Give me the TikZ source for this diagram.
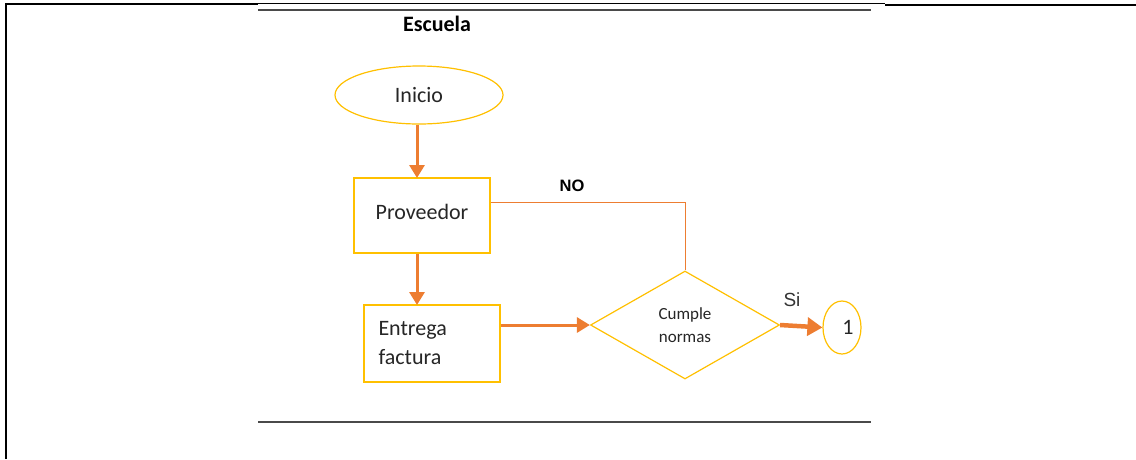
\documentclass[tikz,border=0pt]{standalone}
\usepackage{fontspec}
\setmainfont{Carlito}
\newfontfamily\arialfont{Liberation Sans}
\usetikzlibrary{shapes.geometric,arrows.meta}
\definecolor{boxgold}{HTML}{FFC000}
\definecolor{flow}{HTML}{ED7D31}
\definecolor{rule}{HTML}{4A4A4A}
\begin{document}
\begin{tikzpicture}[x=1pt,y=-1pt,
  shapebox/.style={draw=boxgold,line width=1.2pt,fill=white,font=\fontsize{22}{29}\selectfont,text=black!85},
  flowarrow/.style={draw=flow,line width=3pt,-{Triangle[length=13pt 0 0,width=15pt 0 0]}},
  flowline/.style={draw=flow,line width=1pt}]
\useasboundingbox (0,0) rectangle (1136,459);

% page frame and rules
\draw[line width=2pt] (6,459) -- (6,4) -- (258,4);
\draw[line width=1pt] (258,3.5) -- (885,3.5);
\draw[line width=2pt] (885,4.5) -- (1136,4.5);
\draw[rule,line width=2pt] (258,9.5) -- (871,9.5);
\draw[rule,line width=2pt] (258,422) -- (871,422);

% title
\node[font=\fontsize{22}{26}\selectfont\bfseries] (title) at (437,24) {Escuela};

% flow shapes
\node[shapebox,ellipse,minimum width=168,minimum height=58,inner sep=0] (inicio) at (419,95) {Inicio};
\node[shapebox,rectangle,minimum width=136,minimum height=75,inner sep=0] (prov) at (422,215.5) {\raisebox{7pt}{Proveedor}};
\node[shapebox,rectangle,text width=107,align=left,inner xsep=14.5,minimum height=77,inner ysep=0] (entrega) at (432,343.5) {Entrega\\factura};
\node[shapebox,diamond,minimum width=189,minimum height=108,inner sep=0,font=\fontsize{17}{23}\selectfont,align=center] (cumple) at (685,325) {Cumple\\normas};
\node[shapebox,ellipse,minimum width=38,minimum height=53,inner sep=0] (one) at (842,327.5) {\hspace{12pt}1};

% connectors
\draw[flowarrow] (inicio.south -| 417,0) -- (417,178);
\draw[flowarrow] (prov.south -| 417,0) -- (417,305);
\draw[flowarrow] (cumple.west -| entrega.east) -- (cumple.west);
\coordinate (nobend) at (cumple.north |- 0,202);
\draw[flowline] (nobend -| prov.east) -- (nobend) -- (cumple.north);
\draw[draw=flow,line width=4.5pt,-{Triangle[length=15pt 0 0,width=18pt 0 0]}] (cumple.east) -- (one.west);

% branch labels
\node[font=\arialfont\fontsize{16.5}{20}\selectfont\bfseries] (nolab) at (572,186) {NO};
\node[font=\arialfont\fontsize{19}{22}\selectfont,text=black!80] (silab) at (792,300) {Si};
\end{tikzpicture}
\end{document}
